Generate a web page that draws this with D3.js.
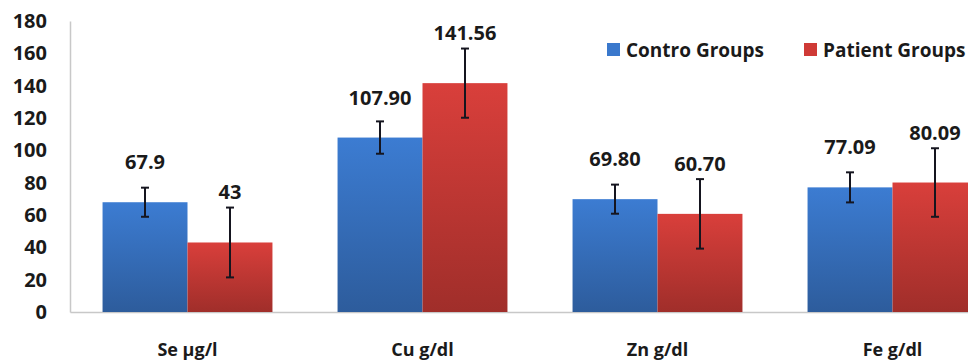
<!DOCTYPE html>
<html>
<head>
<meta charset="utf-8">
<script src="https://cdn.jsdelivr.net/npm/d3@7"></script>
<style>
  html, body { margin: 0; padding: 0; background: #ffffff; }
  svg { display: block; font-family: "Open Sans", "Noto Sans", sans-serif; }
</style>
</head>
<body>
<svg id="chart" width="968" height="364"></svg>
<script>
const categories = ["Se \u00b5g/l", "Cu g/dl", "Zn g/dl", "Fe g/dl"];
const seriesNames = ["Contro Groups", "Patient Groups"];
const controlValues = [67.9, 107.90, 69.80, 77.09];
const patientValues = [43, 141.56, 60.70, 80.09];
const controlLabels = ["67.9", "107.90", "69.80", "77.09"];
const patientLabels = ["43", "141.56", "60.70", "80.09"];
const controlErrors = [9, 10, 9, 9.3];
const patientErrors = [21.6, 21.4, 21.5, 21.2];
const yTicks = [0, 20, 40, 60, 80, 100, 120, 140, 160, 180];

(function () {
const svg = d3.select("#chart");
const mLeft = 70, mRight = 1010, mTop = 21, mBottom = 312;

const x0 = d3.scaleBand().domain(categories).range([mLeft, mRight])
  .paddingInner(0.277).paddingOuter(0.1385);
const x1 = d3.scaleBand().domain(seriesNames).range([0, x0.bandwidth()]);
const y = d3.scaleLinear().domain([0, 180]).range([mBottom, mTop]);

const defs = svg.append("defs");
const grads = [
  { id: "gBlue", c0: "#3c7cd2", c1: "#2d5c9c" },
  { id: "gRed", c0: "#d93f3b", c1: "#a02e2a" }
];
grads.forEach(g => {
  const lg = defs.append("linearGradient").attr("id", g.id)
    .attr("x1", 0).attr("y1", 0).attr("x2", 0).attr("y2", 1);
  lg.append("stop").attr("offset", "0%").attr("stop-color", g.c0);
  lg.append("stop").attr("offset", "100%").attr("stop-color", g.c1);
});

// Y axis
const yAxis = d3.axisLeft(y).tickValues(yTicks).tickSize(0).tickPadding(23);
const gy = svg.append("g").attr("transform", `translate(${mLeft},0)`).call(yAxis);
gy.select(".domain").attr("stroke", "#c8c8c8").attr("stroke-width", 1.5);
gy.selectAll("text").attr("font-size", 20).attr("font-weight", "bold").attr("fill", "#1a1a1a")
  .attr("font-family", "'Open Sans', sans-serif");

// X axis baseline
const xAxis = d3.axisBottom(x0).tickSize(0).tickPadding(31);
const gx = svg.append("g").attr("transform", `translate(0,${mBottom})`).call(xAxis);
gx.select(".domain").attr("stroke", "#c8c8c8").attr("stroke-width", 1.5);
gx.selectAll("text").attr("font-size", 18).attr("font-weight", "bold").attr("fill", "#1a1a1a")
  .attr("font-family", "'Open Sans', sans-serif");

const series = [
  { name: seriesNames[0], values: controlValues, labels: controlLabels, errs: controlErrors, fill: "url(#gBlue)", labelOffset: 40 },
  { name: seriesNames[1], values: patientValues, labels: patientLabels, errs: patientErrors, fill: "url(#gRed)", labelOffset: 50 }
];

series.forEach(s => {
  const g = svg.append("g");
  const data = categories.map((c, i) => ({ c, v: s.values[i], e: s.errs[i], l: s.labels[i] }));
  g.selectAll("rect").data(data).join("rect")
    .attr("x", d => x0(d.c) + x1(s.name))
    .attr("y", d => y(d.v))
    .attr("width", x1.bandwidth())
    .attr("height", d => y(0) - y(d.v))
    .attr("fill", s.fill);
  const cx = d => x0(d.c) + x1(s.name) + x1.bandwidth() / 2;
  const eg = g.selectAll("g.err").data(data).join("g").attr("class", "err")
    .attr("stroke", "#15151f").attr("stroke-width", 2);
  eg.append("line").attr("x1", cx).attr("x2", cx)
    .attr("y1", d => y(d.v + d.e)).attr("y2", d => y(d.v - d.e));
  eg.append("line").attr("x1", d => cx(d) - 4).attr("x2", d => cx(d) + 4)
    .attr("y1", d => y(d.v + d.e)).attr("y2", d => y(d.v + d.e));
  eg.append("line").attr("x1", d => cx(d) - 4).attr("x2", d => cx(d) + 4)
    .attr("y1", d => y(d.v - d.e)).attr("y2", d => y(d.v - d.e));
  g.selectAll("text").data(data).join("text")
    .attr("x", cx)
    .attr("y", d => y(d.v) - s.labelOffset)
    .attr("dy", "0.35em")
    .attr("text-anchor", "middle")
    .attr("font-size", 20).attr("font-weight", "bold").attr("fill", "#1a1a1a")
    .text(d => d.l);
});

// Legend
const legend = [
  { name: seriesNames[0], color: "#3a78cc", x: 607 },
  { name: seriesNames[1], color: "#cf3a36", x: 804 }
];
const lgG = svg.append("g");
legend.forEach(l => {
  lgG.append("rect").attr("x", l.x).attr("y", 43).attr("width", 13).attr("height", 13).attr("fill", l.color);
  lgG.append("text").attr("x", l.x + 19).attr("y", 50).attr("dy", "0.35em")
    .attr("font-size", 19).attr("font-weight", "bold").attr("fill", "#1a1a1a").text(l.name);
});
})();
</script>
</body>
</html>
